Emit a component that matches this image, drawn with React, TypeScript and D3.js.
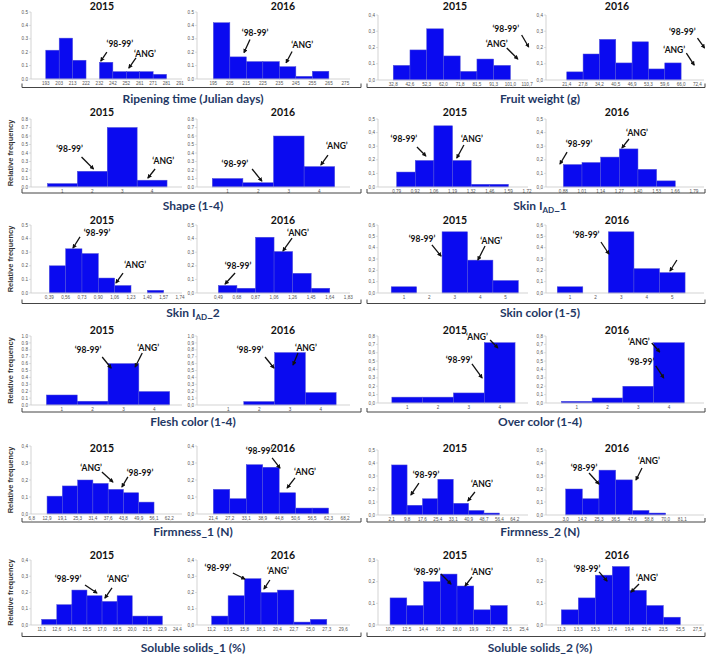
import React from 'react';
import * as d3 from 'd3';

// ---------- data ----------
const years = ['2015', '2016'];

const groupNames = [
  ['Ripening time (Julian days)', 'Fruit weight (g)'],
  ['Shape (1-4)', 'Skin I|AD|_1'],
  ['Skin I|AD|_2', 'Skin color (1-5)'],
  ['Flesh color (1-4)', 'Over color (1-4)'],
  ['Firmness_1 (N)', 'Firmness_2 (N)'],
  ['Soluble solids_1 (%)', 'Soluble solids_2 (%)'],
];

const ripening2015Ticks = ['193', '203', '213', '222', '232', '242', '252', '261', '271', '281', '291'];
const ripening2015Freq = [0.215, 0.305, 0.14, 0, 0.125, 0.055, 0.055, 0.055, 0.035, 0];
const ripening2016Ticks = ['195', '205', '215', '225', '235', '245', '255', '265', '275'];
const ripening2016Freq = [0.42, 0.165, 0.13, 0.13, 0.092, 0.02, 0.058, 0];

const fruit2015Ticks = ['32,8', '42,6', '52,3', '62,0', '71,8', '81,5', '91,3', '101,0', '110,7'];
const fruit2015Freq = [0.09, 0.185, 0.315, 0.148, 0.053, 0.129, 0.09, 0];
const fruit2016Ticks = ['21,4', '27,8', '34,2', '40,5', '46,9', '53,3', '59,6', '66,0', '72,4'];
const fruit2016Freq = [0.05, 0.16, 0.25, 0.105, 0.235, 0.068, 0.105, 0];

const shapeTicks = ['1', '2', '3', '4'];
const shape2015Freq = [0.04, 0.185, 0.7, 0.08];
const shape2016Freq = [0.1, 0.05, 0.6, 0.24];

const skin1_2015Ticks = ['0,79', '0,92', '1,06', '1,19', '1,32', '1,46', '1,59', '1,72'];
const skin1_2015Freq = [0.11, 0.195, 0.45, 0.195, 0.02, 0.02, 0];
const skin1_2016Ticks = ['0,88', '1,01', '1,14', '1,27', '1,40', '1,53', '1,66', '1,79'];
const skin1_2016Freq = [0.165, 0.18, 0.22, 0.28, 0.13, 0.045, 0];

const skin2_2015Ticks = ['0,39', '0,56', '0,73', '0,90', '1,06', '1,23', '1,40', '1,57', '1,74'];
const skin2_2015Freq = [0.2, 0.325, 0.29, 0.11, 0.055, 0, 0.02, 0];
const skin2_2016Ticks = ['0,49', '0,68', '0,87', '1,06', '1,26', '1,45', '1,64', '1,83'];
const skin2_2016Freq = [0.055, 0.035, 0.41, 0.305, 0.145, 0.035, 0];

const skinColorTicks = ['1', '2', '3', '4', '5'];
const skinColor2015Freq = [0.055, 0, 0.54, 0.29, 0.11];
const skinColor2016Freq = [0.055, 0, 0.54, 0.215, 0.18];

const colorTicks = ['1', '2', '3', '4'];
const flesh2015Freq = [0.145, 0.055, 0.6, 0.195];
const flesh2016Freq = [0, 0.05, 0.76, 0.18];
const over2015Freq = [0.07, 0.07, 0.12, 0.72];
const over2016Freq = [0.02, 0.06, 0.2, 0.72];

const firm1_2015Ticks = ['6,8', '12,9', '19,1', '25,3', '31,4', '37,6', '43,8', '49,9', '56,1', '62,2'];
const firm1_2015Freq = [0, 0.105, 0.165, 0.2, 0.18, 0.145, 0.125, 0.07, 0];
const firm1_2016Ticks = ['21,4', '27,2', '33,1', '38,9', '44,8', '50,6', '56,5', '62,3', '68,2'];
const firm1_2016Freq = [0.145, 0.09, 0.29, 0.275, 0.125, 0.035, 0.035, 0];

const firm2_2015Ticks = ['2,1', '9,8', '17,6', '25,4', '33,1', '40,9', '48,7', '56,4', '64,2'];
const firm2_2015Freq = [0.385, 0.075, 0.125, 0.275, 0.09, 0.035, 0.015, 0];
const firm2_2016Ticks = ['3,0', '14,2', '25,3', '36,5', '47,6', '58,8', '70,0', '81,1'];
const firm2_2016Freq = [0.2, 0.125, 0.345, 0.27, 0.035, 0.015, 0];

const ss1_2015Ticks = ['11,1', '12,6', '14,1', '15,5', '17,0', '18,5', '20,0', '21,5', '22,9', '24,4'];
const ss1_2015Freq = [0.035, 0.125, 0.215, 0.18, 0.145, 0.18, 0.055, 0.055, 0];
const ss1_2016Ticks = ['11,2', '13,5', '15,8', '18,1', '20,4', '22,7', '25,0', '27,3', '29,6'];
const ss1_2016Freq = [0.055, 0.18, 0.285, 0.2, 0.215, 0.018, 0.035, 0];

const ss2_2015Ticks = ['10,7', '12,5', '14,4', '16,2', '18,0', '19,9', '21,7', '23,5', '25,4'];
const ss2_2015Freq = [0.125, 0.09, 0.2, 0.235, 0.18, 0.07, 0.09, 0];
const ss2_2016Ticks = ['11,3', '13,3', '15,3', '17,4', '19,4', '21,4', '23,5', '25,5', '27,5'];
const ss2_2016Freq = [0.07, 0.125, 0.23, 0.27, 0.16, 0.09, 0.036, 0];

// annotations, in data units: label centre [x, freq], arrow [x0, f0, x1, f1]
type Note = { label: string; at: [number, number]; arrow: [number, number, number, number] };
const S = '\u201898-99\u2019';
const A = '\u2018ANG\u2019';
const note = (label: string, at: [number, number], arrow: [number, number, number, number]): Note => ({ label, at, arrow });

const ripening2015Notes = [note(S, [5.52, 0.261], [4.55, 0.201, 4.1, 0.134]), note(A, [7.39, 0.187], [6.72, 0.157, 6.19, 0.082])];
const ripening2016Notes = [note(S, [2.53, 0.34], [2.22, 0.295, 1.86, 0.197]), note(A, [5.38, 0.25], [4.77, 0.205, 4.41, 0.121])];
const fruit2015Notes = [note(S, [6.72, 0.314], [7.67, 0.277, 8.09, 0.203]), note(A, [6.18, 0.222], [6.78, 0.197, 7.44, 0.129])];
const fruit2016Notes = [note(S, [7.07, 0.295], [8.0, 0.258, 8.43, 0.197]), note(A, [6.58, 0.185], [7.32, 0.166, 7.8, 0.092])];
const shape2015Notes = [note(S, [1.24, 0.447], [1.64, 0.353, 2.04, 0.212]), note(A, [4.37, 0.306], [4.1, 0.212, 3.86, 0.106])];
const shape2016Notes = [note(S, [1.24, 0.27], [1.8, 0.212, 2.12, 0.07]), note(A, [4.57, 0.482], [4.28, 0.376, 4.05, 0.259])];
const skin1_2015Notes = [note(S, [0.39, 0.353], [1.09, 0.294, 1.57, 0.228]), note(A, [4.04, 0.353], [3.61, 0.309, 3.23, 0.213])];
const skin1_2016Notes = [note(S, [0.84, 0.316], [0.2, 0.257, -0.18, 0.169]), note(A, [3.95, 0.397], [3.52, 0.353, 3.14, 0.287])];
const skin2_2015Notes = [note(S, [2.92, 0.441], [1.88, 0.412, 1.45, 0.331]), note(A, [5.25, 0.206], [4.51, 0.147, 4.08, 0.074])];
const skin2_2016Notes = [note(S, [1.06, 0.199], [0.9, 0.147, 0.36, 0.066]), note(A, [4.29, 0.441], [3.97, 0.404, 3.48, 0.309])];
const skinColor2015Notes = [note(S, [1.71, 0.476], [2.1, 0.424, 2.46, 0.326]), note(A, [4.43, 0.459], [4.19, 0.415, 3.91, 0.291])];
const skinColor2016Notes = [note(S, [1.63, 0.512], [2.21, 0.45, 2.52, 0.344]), note('', [5.18, 0.3], [5.18, 0.291, 4.91, 0.194])];
const flesh2015Notes = [note(S, [1.85, 0.797], [2.31, 0.696, 2.6, 0.536]), note(A, [3.8, 0.826], [3.61, 0.754, 3.38, 0.551])];
const flesh2016Notes = [note(S, [1.7, 0.797], [2.19, 0.696, 2.48, 0.536]), note(A, [3.52, 0.826], [3.26, 0.754, 3.1, 0.58])];
const over2015Notes = [note(A, [3.26, 0.788], [3.69, 0.752, 3.94, 0.657]), note(S, [2.68, 0.513], [3.1, 0.466, 3.43, 0.299])];
const over2016Notes = [note(A, [3.02, 0.728], [3.44, 0.716, 3.7, 0.609]), note(S, [3.09, 0.49], [3.57, 0.442, 3.83, 0.299])];
const firm1_2015Notes = [note(A, [3.88, 0.27], [4.59, 0.247, 5.31, 0.188]), note(S, [7.08, 0.241], [6.29, 0.218, 5.9, 0.159])];
const firm1_2016Notes = [note(S, [2.78, 0.37], [3.57, 0.33, 4.05, 0.27]), note(A, [5.57, 0.247], [4.96, 0.212, 4.48, 0.153])];
const firm2_2015Notes = [note(S, [2.23, 0.308], [1.77, 0.246, 1.25, 0.154]), note(A, [5.86, 0.238], [5.41, 0.177, 4.95, 0.108])];
const firm2_2016Notes = [note(S, [1.1, 0.362], [1.4, 0.323, 2.0, 0.238]), note(A, [5.0, 0.415], [4.58, 0.362, 4.22, 0.269])];
const ss1_2015Notes = [note(S, [1.74, 0.283], [2.87, 0.246, 3.66, 0.197]), note(A, [5.05, 0.283], [4.66, 0.228, 4.19, 0.166])];
const ss1_2016Notes = [note(S, [0.38, 0.351], [1.29, 0.32, 2.02, 0.283]), note(A, [4.03, 0.332], [3.54, 0.277, 3.18, 0.222])];
const ss2_2015Notes = [note(S, [2.21, 0.245], [3.04, 0.235, 3.64, 0.189]), note(A, [5.49, 0.245], [4.9, 0.222, 4.48, 0.18])];
const ss2_2016Notes = [note(S, [1.51, 0.258], [2.22, 0.245, 2.69, 0.203]), note(A, [5.04, 0.217], [4.57, 0.189, 4.1, 0.152])];

type Kind = 'edges' | 'cats';
interface PanelSpec {
  kind: Kind;
  ticks: string[];
  freq: number[];
  yMax: number;
  dec: string;
  notes: Note[];
}
const P = (kind: Kind, ticks: string[], freq: number[], yMax: number, dec: string, notes: Note[]): PanelSpec =>
  ({ kind, ticks, freq, yMax, dec, notes });

// row-major, four panels per row
const panels: PanelSpec[] = [
  P('edges', ripening2015Ticks, ripening2015Freq, 0.5, '.', ripening2015Notes),
  P('edges', ripening2016Ticks, ripening2016Freq, 0.5, '.', ripening2016Notes),
  P('edges', fruit2015Ticks, fruit2015Freq, 0.4, ',', fruit2015Notes),
  P('edges', fruit2016Ticks, fruit2016Freq, 0.4, ',', fruit2016Notes),
  P('cats', shapeTicks, shape2015Freq, 0.8, '.', shape2015Notes),
  P('cats', shapeTicks, shape2016Freq, 0.8, '.', shape2016Notes),
  P('edges', skin1_2015Ticks, skin1_2015Freq, 0.5, ',', skin1_2015Notes),
  P('edges', skin1_2016Ticks, skin1_2016Freq, 0.5, ',', skin1_2016Notes),
  P('edges', skin2_2015Ticks, skin2_2015Freq, 0.5, '.', skin2_2015Notes),
  P('edges', skin2_2016Ticks, skin2_2016Freq, 0.5, ',', skin2_2016Notes),
  P('cats', skinColorTicks, skinColor2015Freq, 0.6, ',', skinColor2015Notes),
  P('cats', skinColorTicks, skinColor2016Freq, 0.6, ',', skinColor2016Notes),
  P('cats', colorTicks, flesh2015Freq, 1.0, '.', flesh2015Notes),
  P('cats', colorTicks, flesh2016Freq, 1.0, ',', flesh2016Notes),
  P('cats', colorTicks, over2015Freq, 0.8, ',', over2015Notes),
  P('cats', colorTicks, over2016Freq, 0.8, ',', over2016Notes),
  P('edges', firm1_2015Ticks, firm1_2015Freq, 0.4, ',', firm1_2015Notes),
  P('edges', firm1_2016Ticks, firm1_2016Freq, 0.4, ',', firm1_2016Notes),
  P('edges', firm2_2015Ticks, firm2_2015Freq, 0.5, ',', firm2_2015Notes),
  P('edges', firm2_2016Ticks, firm2_2016Freq, 0.5, ',', firm2_2016Notes),
  P('edges', ss1_2015Ticks, ss1_2015Freq, 0.4, ',', ss1_2015Notes),
  P('edges', ss1_2016Ticks, ss1_2016Freq, 0.4, ',', ss1_2016Notes),
  P('edges', ss2_2015Ticks, ss2_2015Freq, 0.3, ',', ss2_2015Notes),
  P('edges', ss2_2016Ticks, ss2_2016Freq, 0.3, ',', ss2_2016Notes),
];

// ---------- layout ----------
const colX: [number, number][] = [[31, 182], [197, 350], [378, 528], [546, 704]];
const titleX = [102, 283, 455, 617];
// [top, zero] per row, left pair then right pair
const rowY: [number, number][][] = [
  [[12, 79], [15, 80]],
  [[119, 187], [119, 187]],
  [[225, 293], [225, 293]],
  [[336, 405], [336, 403]],
  [[446, 514], [450, 515]],
  [[560, 625], [560, 625]],
];
const titleBase = [10, 116, 224, 334, 452, 559];
const bracketY = [87.5, 193, 303.5, 412, 522, 636.5];
const groupLabelY = [99, 205.5, 313, 422, 532, 648];
const groupX = [193, 540];
const bracketX: [number, number][] = [[22, 361], [367, 705]];
// axis padding in bin steps, left / right of the tick labels
const pads: [number, number][] = [
  [1.1, 0.15], [0.99, 0.28], [0.91, 0.05], [1.27, 0.4],
  [1.05, 1.0], [1.0, 1.0], [1.0, 0.05], [0.93, 0.54],
  [1.12, 0.12], [1.15, 0.09], [1.02, 0.88], [0.94, 1.24],
  [1.0, 0.9], [1.02, 0.95], [0.95, 0.92], [1.0, 1.14],
  [0.05, 0.83], [0.99, 0.3], [0.89, 0.86], [1.18, 1.3],
  [0.71, 0.3], [0.89, 0.41], [0.72, 0.24], [0.9, 0.39],
];

const BAR = '#0a0af0';
const NAVY = '#1f3864';
const fontMain = 'Lato, "Open Sans", sans-serif';
const fontSmall = '"Liberation Sans", Arial, sans-serif';

const Panel: React.FC<{ spec: PanelSpec; row: number; col: number; pad: [number, number] }> = ({ spec, row, col, pad }) => {
  const [x0, x1] = colX[col];
  const [yTop, yZero] = rowY[row][col < 2 ? 0 : 1];
  const n = spec.ticks.length;
  const domain = spec.kind === 'edges' ? [-pad[0], n - 1 + pad[1]] : [1 - pad[0], n + pad[1]];
  const x = d3.scaleLinear().domain(domain).range([x0, x1]);
  const y = d3.scaleLinear().domain([0, spec.yMax]).range([yZero, yTop]);
  const yTicks = d3.range(0, spec.yMax + 1e-9, 0.1);
  const fmt = (v: number) => d3.format('.1f')(v).replace('.', spec.dec);
  const tickPos = (i: number) => (spec.kind === 'edges' ? i : i + 1);
  const barStart = (i: number) => (spec.kind === 'edges' ? i : i + 0.5);

  return (
    <g>
      {/* y axis */}
      <line x1={x0} x2={x0} y1={yTop} y2={yZero} stroke="#c8c8c8" strokeWidth={0.8} />
      {yTicks.map((t) => (
        <g key={t}>
          <line x1={x0 - 2} x2={x0} y1={y(t)} y2={y(t)} stroke="#c8c8c8" strokeWidth={0.6} />
          <text x={x0 - 3} y={y(t)} dy="0.35em" textAnchor="end" fontSize={4.6} fill="#555" fontFamily={fontSmall}>
            {fmt(t)}
          </text>
        </g>
      ))}
      {/* bars */}
      {spec.freq.map((f, i) =>
        f > 0 ? (
          <rect
            key={i}
            x={x(barStart(i))}
            y={y(f)}
            width={x(barStart(i) + 1) - x(barStart(i))}
            height={y(0) - y(f)}
            fill={BAR}
            stroke="#5050d8"
            strokeWidth={0.5}
          />
        ) : null
      )}
      {/* x axis */}
      <line x1={x0} x2={x1} y1={yZero} y2={yZero} stroke="#c8c8c8" strokeWidth={0.8} />
      {spec.ticks.map((t, i) => (
        <text key={t + i} x={x(tickPos(i))} y={yZero + 5.5} textAnchor="middle" fontSize={4.6} fill="#555" fontFamily={fontSmall}>
          {t}
        </text>
      ))}
      {/* annotations */}
      {spec.notes.map((nt, i) => (
        <g key={i}>
          {nt.label && (
            <text x={x(nt.at[0])} y={y(nt.at[1])} dy="0.35em" textAnchor="middle" fontSize={8.5} fontWeight={700} fill="#111" fontFamily={fontMain}>
              {nt.label}
            </text>
          )}
          <line
            x1={x(nt.arrow[0])}
            y1={y(nt.arrow[1])}
            x2={x(nt.arrow[2])}
            y2={y(nt.arrow[3])}
            stroke="#111"
            strokeWidth={1.3}
            markerEnd="url(#arrowHead)"
          />
        </g>
      ))}
      <text x={titleX[col]} y={titleBase[row]} textAnchor="middle" fontSize={10.5} fontWeight={700} fill="#111" fontFamily={fontMain}>
        {years[col % 2]}
      </text>
    </g>
  );
};

const GroupLabel: React.FC<{ name: string; x: number; y: number }> = ({ name, x, y }) => {
  const parts = name.split('|');
  return (
    <text x={x} y={y} dy="0.35em" textAnchor="middle" fontSize={12} fontWeight={700} fill={NAVY} fontFamily={fontMain}>
      {parts.length === 1 ? (
        name
      ) : (
        <>
          {parts[0]}
          <tspan dy={3} fontSize={8}>{parts[1]}</tspan>
          <tspan dy={-3}>{parts[2]}</tspan>
        </>
      )}
    </text>
  );
};

export default function App() {
  return (
    <svg width={708} height={660} style={{ position: 'absolute', left: 0, top: 0, background: '#fff' }}>
      <defs>
        <marker id="arrowHead" viewBox="0 0 10 10" refX="8" refY="5" markerWidth="4.5" markerHeight="4.5" markerUnits="userSpaceOnUse" orient="auto">
          <path d="M0,0 L10,5 L0,10 z" fill="#111" />
        </marker>
      </defs>
      {panels.map((p, i) => (
        <Panel key={i} spec={p} row={Math.floor(i / 4)} col={i % 4} pad={pads[i]} />
      ))}
      {groupNames.map((pair, r) =>
        pair.map((name, s) => (
          <g key={`${r}-${s}`}>
            <path
              d={`M${bracketX[s][0]},${bracketY[r] - 4}V${bracketY[r]}H${bracketX[s][1]}V${bracketY[r] - 4}`}
              fill="none"
              stroke="#444"
              strokeWidth={1}
            />
            <GroupLabel name={name} x={groupX[s]} y={groupLabelY[r]} />
          </g>
        ))
      )}
      {rowY.slice(1).map((ry, r) => (
        <text
          key={r}
          transform={`translate(10,${(ry[0][0] + ry[0][1]) / 2}) rotate(-90)`}
          textAnchor="middle"
          dy="0.35em"
          fontSize={7.5}
          fontWeight={700}
          fill="#333"
          fontFamily={fontSmall}
        >
          Relative frequency
        </text>
      ))}
    </svg>
  );
}
